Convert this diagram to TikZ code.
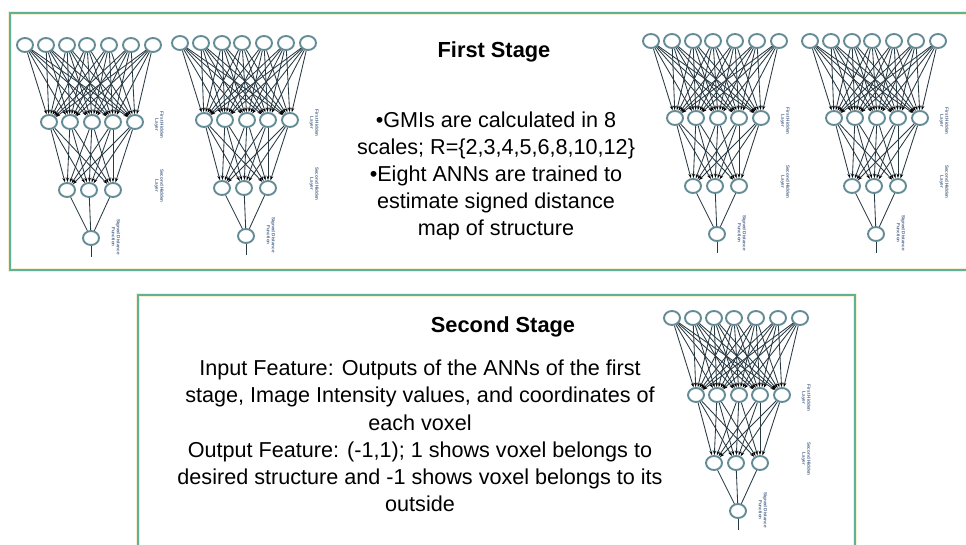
\documentclass[tikz,border=0pt]{standalone}
\usepackage{fontspec}
\setmainfont{Liberation Sans}
\usetikzlibrary{arrows.meta,shapes.geometric}

\definecolor{nodec}{RGB}{100,140,150}
\definecolor{wirec}{RGB}{40,58,68}
\definecolor{frameteal}{RGB}{95,178,150}
\definecolor{framecream}{RGB}{248,238,210}
\definecolor{labc}{RGB}{80,105,140}

\tikzset{
  neuron/.style={ellipse, draw=nodec, line width=1.9pt, fill=white,
                 minimum width=16pt, minimum height=14pt, inner sep=0pt},
  wire/.style={draw=wirec, line width=0.85pt},
  wiretip/.style={wire, -{Stealth[length=4.5pt,width=3pt,black]}},
  framehalo/.style={draw=framecream, line width=4pt},
  frameline/.style={draw=frameteal, line width=1.2pt},
  layerlab/.style={text=labc, rotate=-90, align=center, inner sep=0pt,
                   font=\fontsize{4.6}{5}\selectfont\bfseries},
  title/.style={font=\fontsize{21.8}{26}\selectfont\bfseries, inner sep=0pt},
  body/.style={font=\fontsize{21.6}{27.2}\selectfont, align=center, inner sep=0pt}
}

% One feed-forward network 7-5-3-1; #1 name prefix, (#2,#3) centre of first input neuron
\newcommand{\annnet}[3]{%
  \begin{scope}[shift={(#2,#3)}]
    \foreach \i/\x in {1/0,2/21,3/42,4/62,5/84,6/106,7/128}
      \node[neuron] (#1t\i) at (\x,0) {};
    \foreach \i/\x in {1/24,2/45,3/67,4/88,5/110}
      \node[neuron] (#1a\i) at (\x,77) {};
    \foreach \i/\x in {1/42,2/64,3/88}
      \node[neuron] (#1b\i) at (\x,145) {};
    \node[neuron] (#1o) at (66,193) {};
    \coordinate (#1e) at (66,212);
    \foreach \i in {1,...,7}{\foreach \j in {1,...,5}{\draw[wiretip] (#1t\i) -- (#1a\j);}}
    \foreach \i in {1,...,5}{\foreach \j in {1,...,3}{\draw[wiretip] (#1a\i) -- (#1b\j);}}
    \foreach \i in {1,...,3}{\draw[wire] (#1b\i) -- (#1o);}
    \draw[wire] (#1o) -- (#1e);
    \node[layerlab] (#1la) at (134,80) {First Hidden\\Layer};
    \node[layerlab] (#1lb) at (134,141) {Second Hidden\\Layer};
    \node[layerlab] (#1lc) at (91,192) {Signed Distance\\Function};
  \end{scope}}

\begin{document}
\begin{tikzpicture}[x=1pt,y=-1pt]
  \useasboundingbox (0,0) rectangle (966,545);
  \fill[white] (0,0) rectangle (966,545);

  % frames of the two stages
  \draw[framehalo] (10,13) rectangle (980,270);
  \draw[frameline] (10,13) rectangle (980,270);
  \draw[framehalo] (138,295) rectangle (855,560);
  \draw[frameline] (138,295) rectangle (855,560);

  % first stage: eight networks, four of them drawn
  \annnet{na}{25}{45}
  \annnet{nb}{180}{43}
  \annnet{nc}{651}{41}
  \annnet{nd}{810}{41}

  \node[title] (t1) at (494,52) {First Stage};
  \node[body] (b1) at (496,176) {\textbullet GMIs are calculated in 8\\
    scales; R=\{2,3,4,5,6,8,10,12\}\\
    \textbullet Eight ANNs are trained to\\
    estimate signed distance\\
    map of structure};

  % second stage network
  \annnet{ne}{672}{318}

  \node[title] (t2) at (503,327) {Second Stage};
  \node[body] (b2) at (420,436) {Input Feature: Outputs of the ANNs of the first\\
    stage, Image Intensity values, and coordinates of\\
    each voxel\\
    Output Feature: (-1,1); 1 shows voxel belongs to\\
    desired structure and -1 shows voxel belongs to its\\
    outside};
\end{tikzpicture}
\end{document}
